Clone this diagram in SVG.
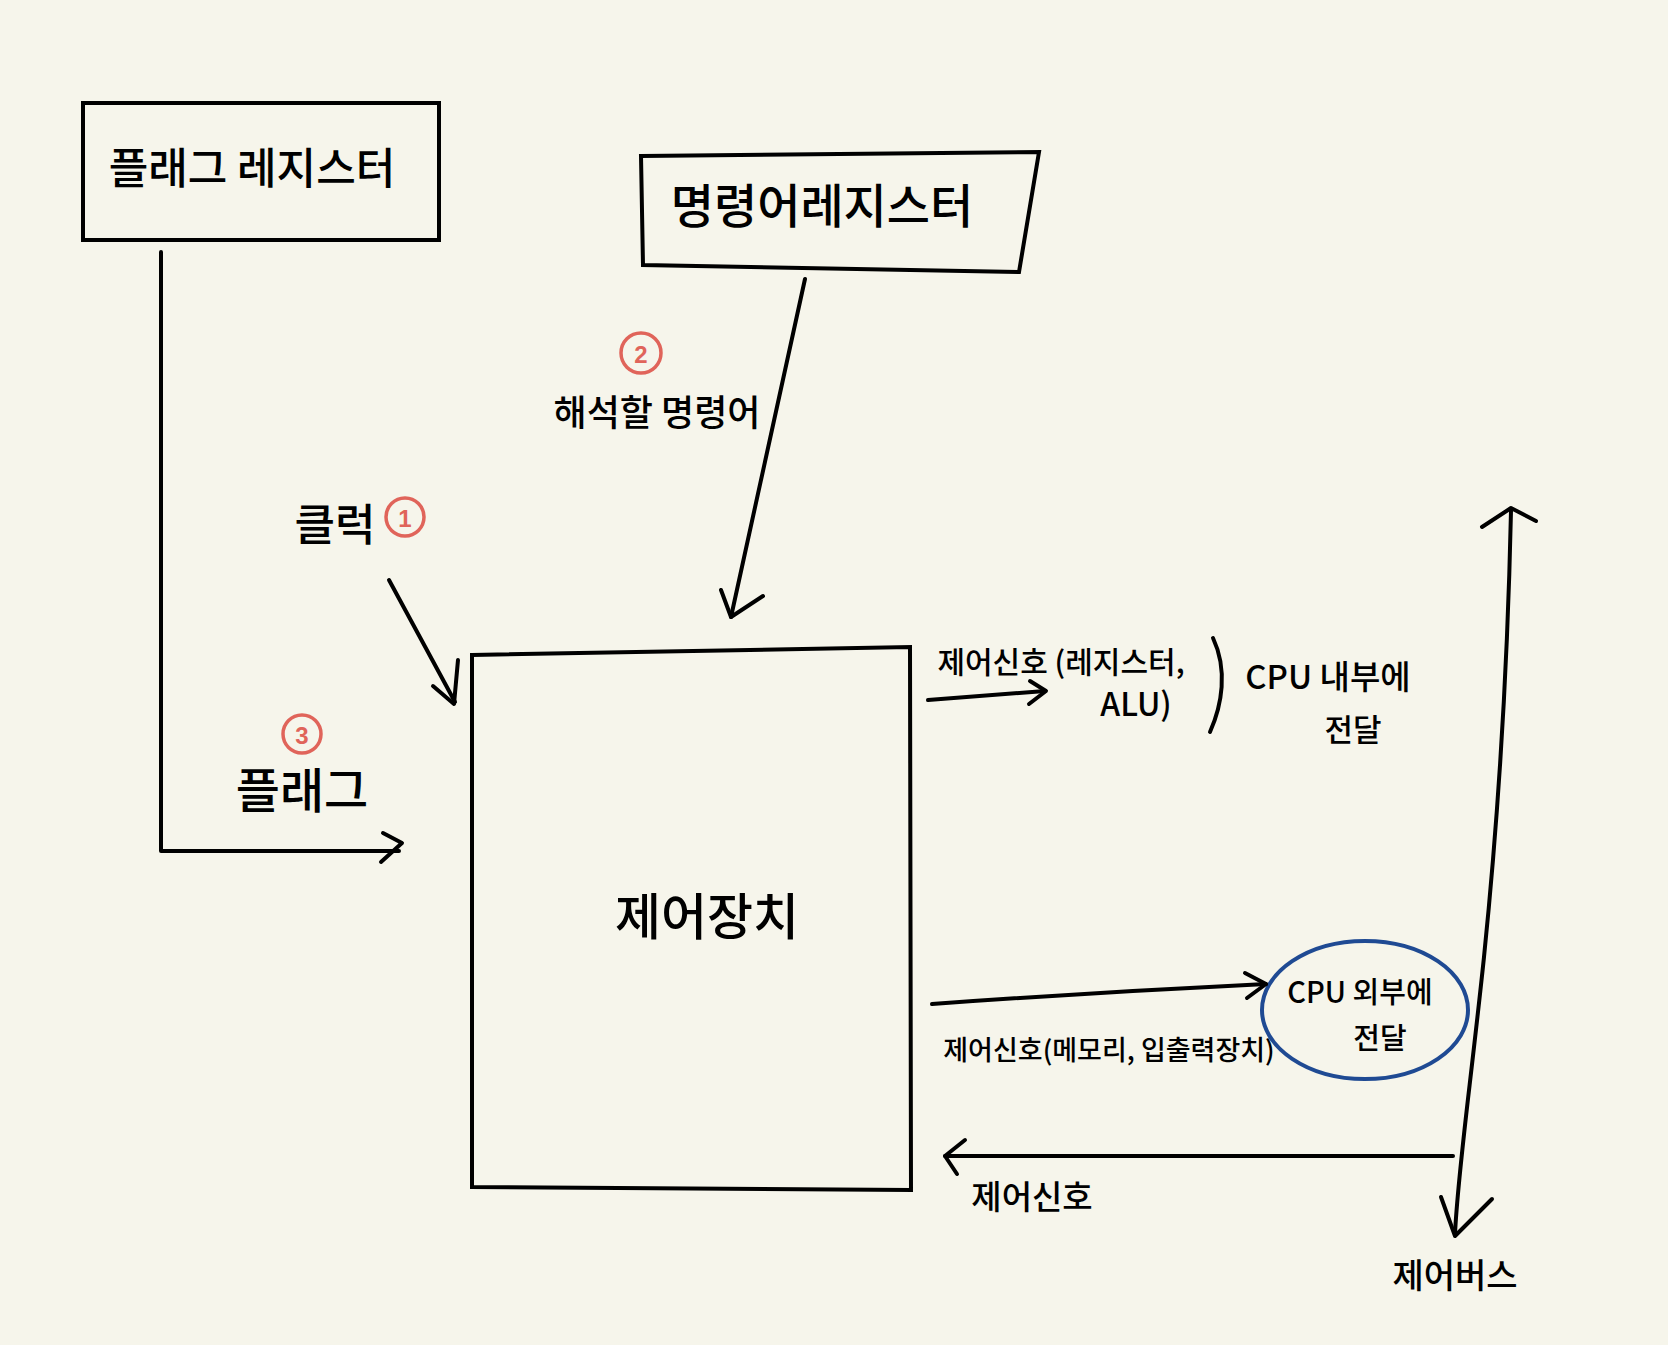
<svg xmlns="http://www.w3.org/2000/svg" width="1668" height="1345" viewBox="0 0 1668 1345">
<style>
.bg{fill:#f6f5eb}
.box{fill:none;stroke:#000;stroke-width:4;stroke-linejoin:miter}
.ln{fill:none;stroke:#000;stroke-width:4;stroke-linecap:round;stroke-linejoin:round}
.t{font-family:"Noto Sans CJK KR","Noto Sans",sans-serif;fill:#000;text-anchor:middle;dominant-baseline:central;font-weight:500}
.red{fill:none;stroke:#e0645a;stroke-width:3.5}
.rt{font-family:"Liberation Sans","Noto Sans",sans-serif;fill:#e0645a;text-anchor:middle;dominant-baseline:central;font-weight:bold}
</style>
<rect class="bg" x="0" y="0" width="1668" height="1345"/>

<g id="flag-register">
<rect class="box" x="83" y="103" width="356" height="137"/>
<text class="t" x="252" y="165" font-size="43">플래그 레지스터</text>
</g>

<g id="instruction-register">
<polygon class="box" points="641,156 1039,152 1019,272 643,265"/>
<text class="t" x="822" y="202" font-size="47">명령어레지스터</text>
</g>

<g id="control-unit">
<polygon class="box" points="472,655 910,647 911,1190 472,1187"/>
<text class="t" x="707" y="913" font-size="50">제어장치</text>
</g>

<g id="cpu-external">
<ellipse cx="1365" cy="1010" rx="103" ry="69" fill="none" stroke="#1f4a93" stroke-width="4"/>
<text class="t" x="1360" y="990" font-size="29">CPU 외부에</text>
<text class="t" x="1380" y="1036" font-size="29">전달</text>
</g>

<g id="connectors">
<!-- flag register to control unit -->
<polyline class="ln" points="161,252 161,851 399,851"/>
<polyline class="ln" points="383,833 402,843 381,862"/>
<!-- instruction register to control unit -->
<line class="ln" x1="805" y1="279" x2="731" y2="617"/>
<polyline class="ln" points="721,590 731,617 763,596"/>
<!-- clock -->
<line class="ln" x1="389" y1="580" x2="455" y2="702"/>
<polyline class="ln" points="433,686 454,704 458,660"/>
<!-- control signal internal -->
<line class="ln" x1="928" y1="700" x2="1045" y2="691"/>
<polyline class="ln" points="1030,681 1046,691 1029,704"/>
<!-- control signal external -->
<path class="ln" d="M932,1004 Q1100,992 1266,984"/>
<polyline class="ln" points="1245,973 1266,984 1247,998"/>
<!-- incoming control signal -->
<line class="ln" x1="1453" y1="1156" x2="945" y2="1156"/>
<polyline class="ln" points="965,1140 945,1156 957,1174"/>
<!-- control bus -->
<path class="ln" d="M1511,511 C1508,650 1500,800 1484,957 C1470,1090 1458,1170 1455,1234"/>
<polyline class="ln" points="1482,527 1511,508 1536,521"/>
<polyline class="ln" points="1441,1197 1455,1236 1492,1199"/>
<!-- bracket -->
<path class="ln" d="M1213,638 C1228,670 1222,705 1210,732"/>
</g>

<g id="labels">
<text class="t" x="657" y="410" font-size="36">해석할 명령어</text>
<text class="t" x="335" y="522" font-size="44">클럭</text>
<text class="t" x="302" y="787" font-size="48">플래그</text>
<text class="t" x="1061" y="660" font-size="30">제어신호 (레지스터,</text>
<text class="t" x="1136" y="702" font-size="32">ALU)</text>
<text class="t" x="1328" y="675" font-size="33">CPU 내부에</text>
<text class="t" x="1353" y="727" font-size="31">전달</text>
<text class="t" x="1109" y="1048" font-size="27">제어신호(메모리, 입출력장치)</text>
<text class="t" x="1032" y="1195" font-size="33">제어신호</text>
<text class="t" x="1455" y="1273" font-size="34">제어버스</text>
</g>

<g id="step-markers">
<circle class="red" cx="405" cy="517" r="19"/>
<text class="rt" x="405" y="518" font-size="24">1</text>
<circle class="red" cx="641" cy="353" r="20"/>
<text class="rt" x="641" y="354" font-size="24">2</text>
<circle class="red" cx="302" cy="734" r="19"/>
<text class="rt" x="302" y="735" font-size="24">3</text>
</g>
</svg>
